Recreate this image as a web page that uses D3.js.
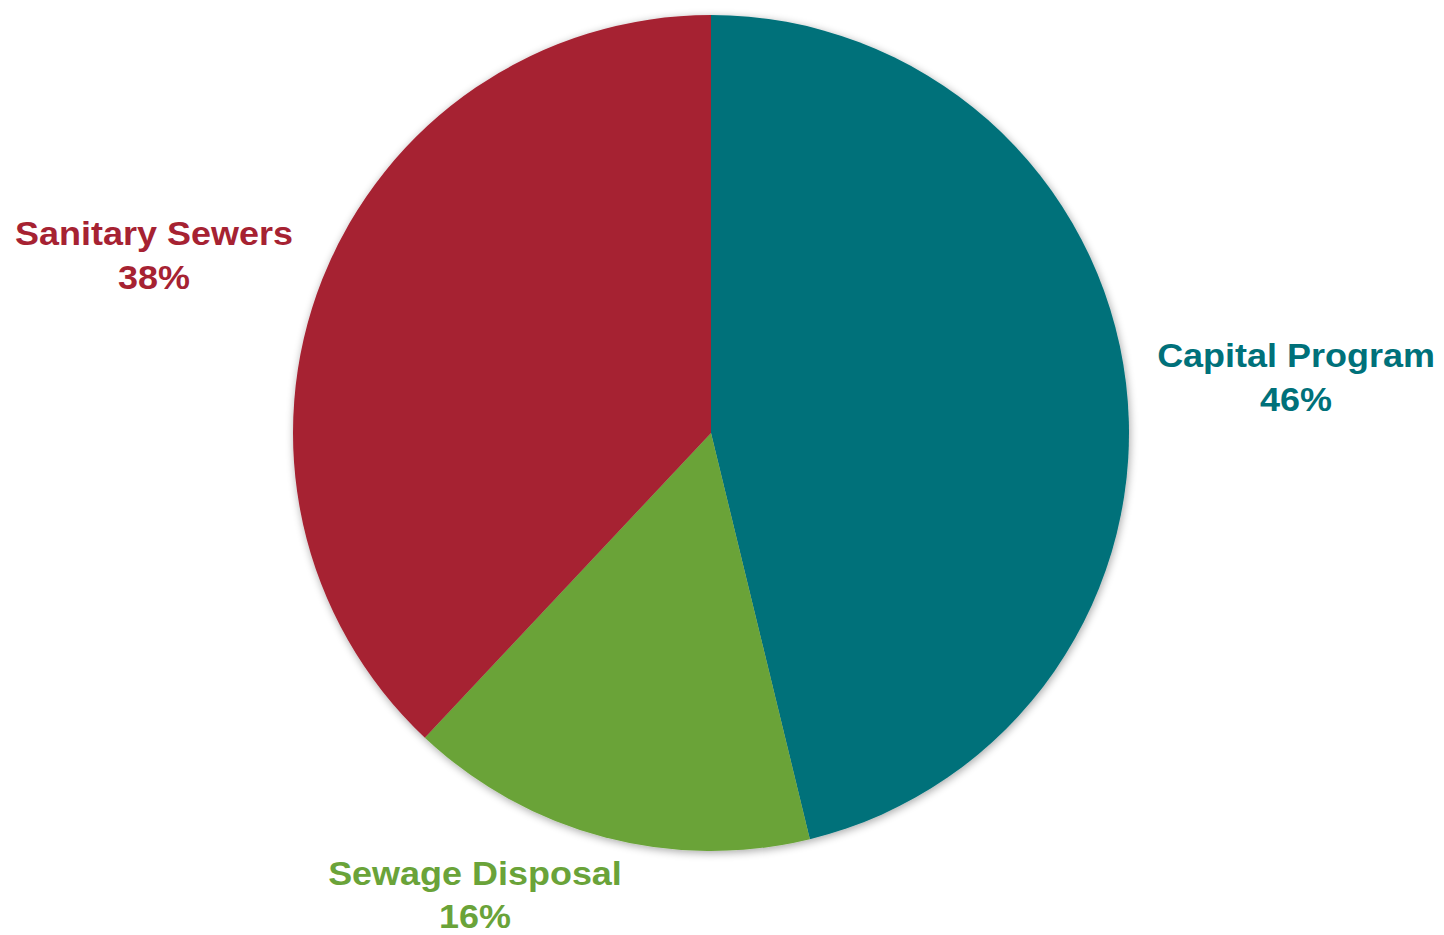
<!DOCTYPE html>
<html><head><meta charset="utf-8">
<script src="https://cdn.jsdelivr.net/npm/d3@7"></script>
<style>html,body{margin:0;padding:0;background:#fff;}svg{display:block;}</style>
</head><body>
<svg id="chart" width="1444" height="935"></svg>
<script>
const categories = ["Capital Program", "Sewage Disposal", "Sanitary Sewers"];
const values = [46.2, 15.8, 38.0];
const colors = ["#00717A", "#6AA339", "#A62232"];

const svg = d3.select("#chart");
const cx = 711, cy = 433, R = 418;

const defs = svg.append("defs");
const f = defs.append("filter").attr("id","sh").attr("x","-10%").attr("y","-10%").attr("width","120%").attr("height","120%");
f.append("feGaussianBlur").attr("in","SourceAlpha").attr("stdDeviation",4).attr("result","b");
f.append("feOffset").attr("in","b").attr("dx",1).attr("dy",2).attr("result","o");
f.append("feComponentTransfer").attr("in","o").attr("result","o2").append("feFuncA").attr("type","linear").attr("slope",0.35);
const m = f.append("feMerge"); m.append("feMergeNode").attr("in","o2"); m.append("feMergeNode").attr("in","SourceGraphic");

const pie = d3.pie().sort(null).value(d => d);
const arcs = pie(values);
const arc = d3.arc().innerRadius(0).outerRadius(R);
const total = d3.sum(values);
const pct = d3.format(".0%");

const g = svg.append("g").attr("transform", `translate(${cx},${cy})`).attr("filter","url(#sh)");
g.selectAll("path").data(arcs).join("path")
  .attr("d", arc).attr("fill", (d,i) => colors[i]);

// label anchor positions (relative to pie center) and line gap
const labelPos = [[585, -66, 44], [-236, 452, 43], [-557, -188, 44]];
const lg = svg.append("g").attr("transform", `translate(${cx},${cy})`);
arcs.forEach((d,i) => {
  const wrap = lg.append("g")
    .attr("transform", `translate(${labelPos[i][0]},${labelPos[i][1]}) scale(1.09,1)`);
  const t = wrap.append("text")
    .attr("x", 0).attr("y", 0)
    .attr("text-anchor","middle")
    .attr("font-family","'Liberation Sans', Arial, sans-serif")
    .attr("font-weight","bold").attr("font-size",33)
    .attr("fill", colors[i]);
  t.append("tspan").attr("x", 0).attr("dy",0).text(categories[i]);
  t.append("tspan").attr("x", 0).attr("dy",labelPos[i][2]).text(pct(d.data / total));
});
</script>
</body></html>
